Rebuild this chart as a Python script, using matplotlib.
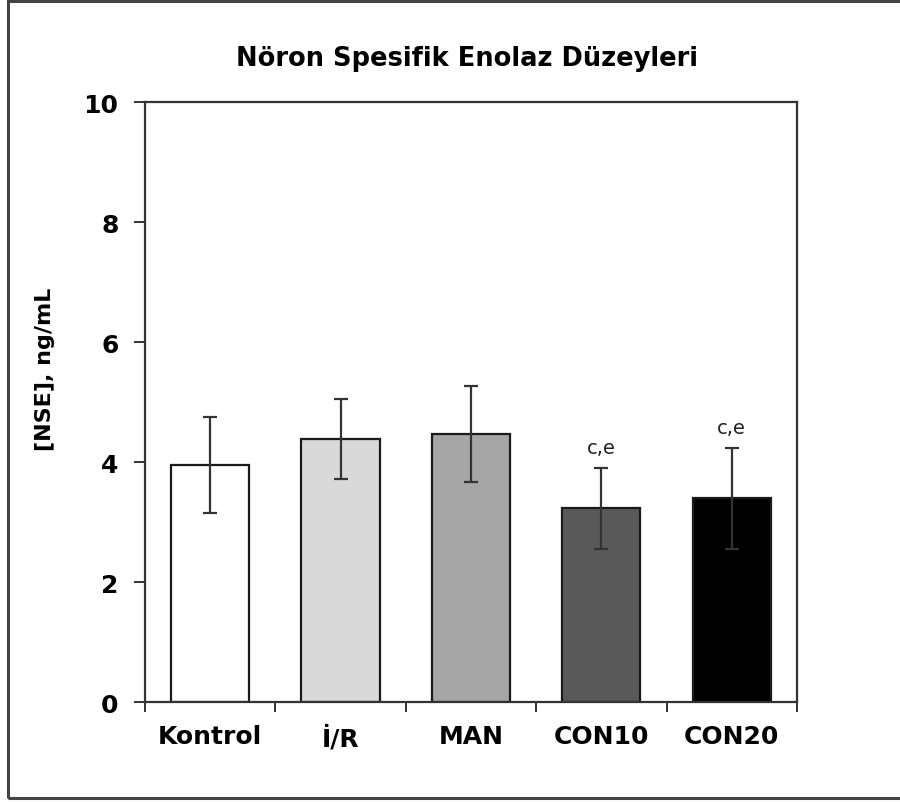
import matplotlib.pyplot as plt
from matplotlib.patches import Rectangle

# group names and NSE levels (ng/mL)
groups = ['Kontrol', 'İ/R', 'MAN', 'CON10', 'CON20']
nse_mean = [3.96, 4.39, 4.47, 3.23, 3.40]
nse_err = [0.80, 0.67, 0.80, 0.67, 0.84]
bar_colors = ['#ffffff', '#d9d9d9', '#a6a6a6', '#595959', '#000000']
sig_labels = ['', '', '', 'c,e', 'c,e']

fig = plt.figure(figsize=(9, 8.03), dpi=100)
ax = fig.add_axes([0.1611, 0.1242, 0.7244, 0.7472])

x = list(range(len(groups)))
ax.bar(x, nse_mean, width=0.6, color=bar_colors, edgecolor='#1a1a1a', linewidth=1.6,
       yerr=nse_err, capsize=5, error_kw=dict(ecolor='#333333', elinewidth=1.6, capthick=1.6),
       zorder=2)

# significance letters above the error bars
for xi, m, e, s in zip(x, nse_mean, nse_err, sig_labels):
    if s:
        ax.annotate(s, (xi, m + e), xytext=(0, 11), textcoords='offset points',
                    ha='center', va='baseline', fontsize=14, color='#222222')

ax.set_xlim(-0.5, len(groups) - 0.5)
ax.set_ylim(0, 10)
ax.set_yticks([0, 2, 4, 6, 8, 10])
ax.set_xticks(x)
ax.set_xticklabels(groups)
ax.set_xticks([i - 0.5 for i in range(len(groups) + 1)], minor=True)

for sp in ax.spines.values():
    sp.set_linewidth(1.6)
    sp.set_color('#333333')

ax.tick_params(axis='y', direction='out', length=8, width=1.4, color='#333333',
               labelsize=18, pad=11)
ax.tick_params(axis='x', which='major', length=0, labelsize=18, pad=16)
ax.tick_params(axis='x', which='minor', direction='out', length=7, width=1.4, color='#333333')
for lab in ax.get_xticklabels() + ax.get_yticklabels():
    lab.set_fontweight('bold')

fig.text(45 / 900, 1 - 369 / 803, '[NSE], ng/mL', rotation=90, ha='center', va='center',
         fontsize=16, fontweight='bold')

fig.text(0.519, 0.927, 'Nöron Spesifik Enolaz Düzeyleri', ha='center', va='center',
         fontsize=18.5, fontweight='bold')

# frame around the whole picture
fig.patches.append(Rectangle((8 / 900, 1 - 799 / 803), 1.1, (799 - 2) / 803,
                             transform=fig.transFigure, fill=False,
                             edgecolor='#444444', linewidth=2.2))

fig.savefig('out.png', dpi=100)
